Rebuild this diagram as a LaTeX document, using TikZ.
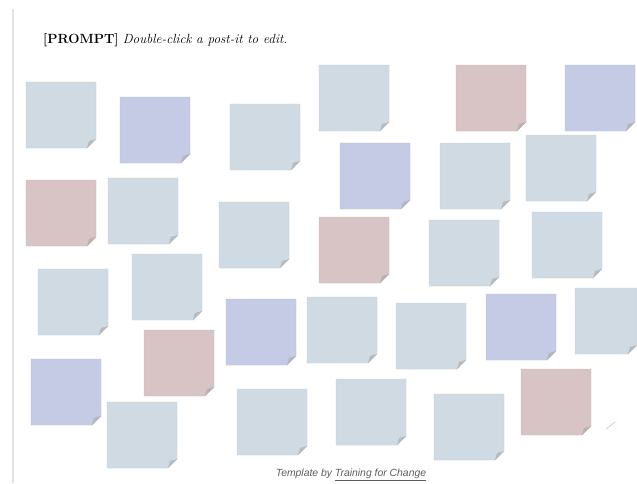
\documentclass[tikz,border=0pt]{standalone}
\usepackage{fontspec}
\newfontfamily\footfont{Liberation Sans}
\definecolor{notegray}{HTML}{CFDAE2}
\definecolor{noteblue}{HTML}{C5CAE5}
\definecolor{notered}{HTML}{D8C4C4}
\definecolor{sideline}{HTML}{E2E2E2}
\definecolor{foottext}{HTML}{5E5E5E}
\tikzset{
  postit/.pic={
    \fill[#1] (0,0) -- (70,0) -- (70,57) -- (61,66) -- (0,66) -- cycle;
    \draw[#1!94!black, line width=0.4pt] (0,0) -- (70,0) -- (70,57) -- (61,66) -- (0,66) -- cycle;
    \fill[#1!65!black!60] (70,57) -- (61,66) -- (63,59) -- cycle;
  },
  postitnarrow/.pic={
    \fill[#1] (0,0) -- (62,0) -- (62,57) -- (53,66) -- (0,66) -- cycle;
    \draw[#1!94!black, line width=0.4pt] (0,0) -- (62,0) -- (62,57) -- (53,66) -- (0,66) -- cycle;
    \fill[#1!65!black!60] (62,57) -- (53,66) -- (55,59) -- cycle;
  }
}
\begin{document}
\begin{tikzpicture}[x=1pt,y=-1pt]
\useasboundingbox (0,0) rectangle (637,483);
\fill[white] (0,0) rectangle (637,483);
\draw[sideline, line width=2pt] (13,9) -- (13,483);
\node[anchor=base west, inner sep=0pt, font=\fontsize{13.3}{15}\selectfont] (title) at (43,43)
  {\textbf{[PROMPT]} \textit{Double-click a post-it to edit.}};
% row 1
\pic at (26,82) {postit=notegray};
\pic at (120,97) {postit=noteblue};
\pic at (230,104) {postit=notegray};
\pic at (319,65) {postit=notegray};
\pic at (456,65) {postit=notered};
\pic at (565,65) {postit=noteblue};
\pic at (340,143) {postit=noteblue};
\pic at (440,143) {postit=notegray};
\pic at (526,135) {postit=notegray};
% row 2
\pic at (26,180) {postit=notered};
\pic at (108,178) {postit=notegray};
\pic at (219,202) {postit=notegray};
\pic at (319,217) {postit=notered};
\pic at (429,220) {postit=notegray};
\pic at (532,212) {postit=notegray};
% row 3
\pic at (38,269) {postit=notegray};
\pic at (132,254) {postit=notegray};
\pic at (226,299) {postit=noteblue};
\pic at (307,297) {postit=notegray};
\pic at (396,303) {postit=notegray};
\pic at (486,294) {postit=noteblue};
\pic at (575,288) {postitnarrow=notegray};
% row 4
\pic at (144,330) {postit=notered};
\pic at (31,359) {postit=noteblue};
\pic at (107,402) {postit=notegray};
\pic at (237,389) {postit=notegray};
\pic at (336,379) {postit=notegray};
\pic at (434,394) {postit=notegray};
\pic at (521,369) {postit=notered};
\draw[notered!80!red!60, line width=0.8pt] (606,429) -- (615,422);
\node[inner sep=0pt, text=foottext, font=\footfont\itshape\fontsize{10.4}{12}\selectfont] (footer) at (351,475)
  {Template by \underline{Training for Change}};
\end{tikzpicture}
\end{document}
